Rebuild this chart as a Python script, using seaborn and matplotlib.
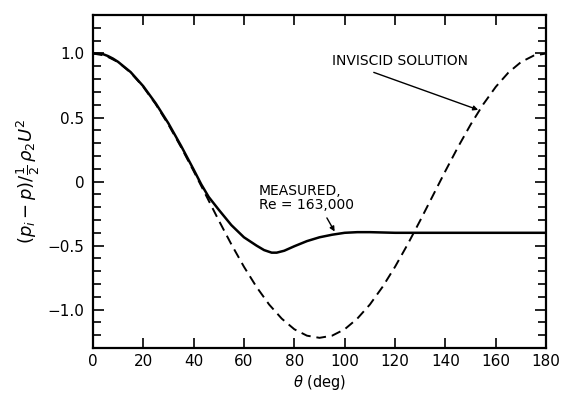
import numpy as np
import pandas as pd
import matplotlib
matplotlib.use('Agg')
import matplotlib.pyplot as plt
from matplotlib.ticker import MultipleLocator, FixedLocator
import seaborn as sns

# values
theta_inviscid = [0, 5, 10, 15, 20, 25, 30, 35, 40, 45, 50, 55, 60, 65, 70, 75, 80, 85, 90,
                  95, 100, 105, 110, 115, 120, 125, 130, 135, 140, 145, 150, 155, 160,
                  165, 170, 175, 180]
cp_inviscid = [1.0, 0.983, 0.933, 0.851, 0.74, 0.603, 0.445, 0.27, 0.083, -0.11,
               -0.303, -0.49, -0.665, -0.823, -0.96, -1.07, -1.153, -1.203, -1.22,
               -1.203, -1.153, -1.07, -0.96, -0.823, -0.665, -0.49, -0.303, -0.11,
               0.083, 0.27, 0.445, 0.603, 0.74, 0.851, 0.933, 0.983, 1.0]

theta_measured = [0, 2, 4, 6, 8, 10, 15, 20, 25, 30, 35, 40, 43, 46, 50, 55, 60, 65,
                  68, 71, 73, 76, 80, 85, 90, 95, 100, 105, 110, 120, 140, 160, 180]
cp_measured = [1.0, 1.0, 0.995, 0.98, 0.96, 0.935, 0.855, 0.745, 0.61, 0.455, 0.28,
               0.095, -0.02, -0.12, -0.22, -0.34, -0.435, -0.50, -0.535, -0.555,
               -0.555, -0.54, -0.505, -0.465, -0.435, -0.415, -0.40, -0.395, -0.395,
               -0.40, -0.40, -0.40, -0.40]

x_ticks = [0, 20, 40, 60, 80, 100, 120, 140, 160, 180]
x_labels = ['0', '20', '40', '60', '80', '100', '120', '140', '160', '180']
y_ticks = [1.0, 0.5, 0.0, -0.5, -1.0]
y_labels = ['1.0', '0.5', '0', '\u22120.5', '\u22121.0']

sns.set_style('ticks')
plt.rcParams['font.family'] = ['DejaVu Sans']
plt.rcParams['mathtext.fontset'] = 'dejavusans'
plt.rcParams['text.color'] = 'black'
plt.rcParams['axes.labelcolor'] = 'black'
plt.rcParams['xtick.color'] = 'black'
plt.rcParams['ytick.color'] = 'black'

df_inv = pd.DataFrame({'theta': theta_inviscid, 'cp': cp_inviscid})
df_meas = pd.DataFrame({'theta': theta_measured, 'cp': cp_measured})

fig = plt.figure(figsize=(5.66, 3.96), dpi=100)
ax = fig.add_axes([0.164, 0.121, 0.801, 0.841])

sns.lineplot(data=df_inv, x='theta', y='cp', ax=ax, color='black', lw=1.4,
             linestyle=(0, (5, 3)), estimator=None, sort=False)
sns.lineplot(data=df_meas, x='theta', y='cp', ax=ax, color='black', lw=1.8,
             estimator=None, sort=False)

ax.set_xlim(0, 180)
ax.set_ylim(-1.3, 1.3)
ax.xaxis.set_major_locator(FixedLocator(x_ticks))
ax.set_xticklabels(x_labels)
ax.yaxis.set_major_locator(FixedLocator(y_ticks))
ax.set_yticklabels(y_labels)
ax.yaxis.set_minor_locator(MultipleLocator(0.1))

ax.tick_params(which='both', direction='in', top=True, right=True,
               labelsize=11, color='black', labelcolor='black', width=1.2)
ax.tick_params(axis='x', which='major', length=7, pad=4)
ax.tick_params(axis='y', which='major', length=8, pad=6)
ax.tick_params(axis='y', which='minor', length=6)
for s in ax.spines.values():
    s.set_linewidth(1.6)
    s.set_visible(True)
    s.set_color('black')

ax.set_xlabel(r'$\theta$ (deg)', fontsize=10.5)
ax.xaxis.set_label_coords(0.5, -0.075)
ax.xaxis.label.set_va('top')
ax.set_ylabel(r'$(p_i - p)/\frac{1}{2}\,\rho_2 U^2$', fontsize=13, labelpad=4)

ax.annotate('INVISCID SOLUTION', xy=(153, 0.56), xytext=(95, 0.94),
            fontsize=10, ha='left', va='center',
            arrowprops=dict(arrowstyle='-|>', color='black', lw=1.0,
                            mutation_scale=7, shrinkA=2, shrinkB=0,
                            relpos=(0.22, 0.0)))
ax.annotate('MEASURED,\nRe = 163,000', xy=(96, -0.39), xytext=(66, -0.13),
            fontsize=10, ha='left', va='center', linespacing=1.0,
            arrowprops=dict(arrowstyle='-|>', color='black', lw=1.0,
                            mutation_scale=7, shrinkA=2, shrinkB=0,
                            relpos=(0.68, 0.0)))

fig.savefig('out.png', dpi=100)
